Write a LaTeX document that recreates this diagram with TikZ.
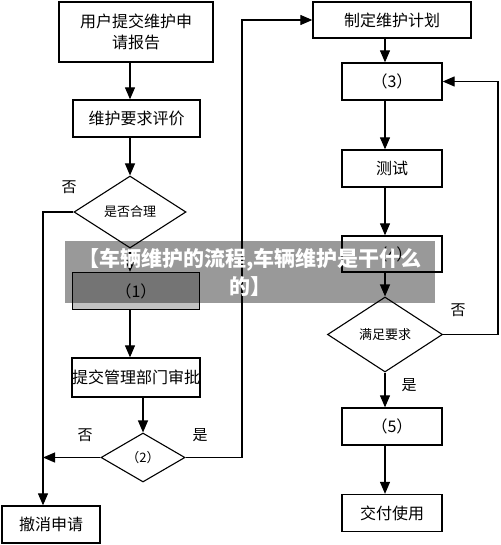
\documentclass[tikz,border=0pt]{standalone}
\usepackage{fontspec}
\setmainfont{Noto Sans CJK SC}
\usetikzlibrary{shapes.geometric, arrows.meta}

\begin{document}
\begin{tikzpicture}[
  x=1pt, y=-1pt,
  every node/.style={font=\fontsize{16}{21}\selectfont},
  box/.style={
    rectangle, draw, line width=1.3pt,
    inner sep=0pt, align=center,
    minimum width=100pt, minimum height=37pt
  },
  decision/.style={
    diamond, draw, line width=1.1pt, inner sep=0pt,
    font=\fontsize{13}{16}\selectfont
  },
  freccia/.style={line width=1.1pt, -{Triangle[length=12pt,width=10pt]}},
  lbl/.style={font=\fontsize{15}{18}\selectfont}
]
\useasboundingbox (0,0) rectangle (500,545);

% colonna di sinistra
\node[box, minimum width=154pt, minimum height=60pt] (richiesta) at (136,32) {用户提交维护申\\请报告};
\node[box, minimum width=127pt] (valuta) at (136.5,118.5) {维护要求评价};
\node[decision, minimum width=112pt, minimum height=72pt] (ragionevole) at (130,212) {是否合理};
\node[box, minimum width=127pt, fill=black!24] (passo1) at (136,291) {（1）};
\node[box, minimum width=128pt, minimum height=39pt] (approva) at (136,377.5) {提交管理部门审批};
\node[decision, minimum width=84pt, minimum height=49pt] (passo2) at (143,457.5) {（2）};
\node[box, minimum width=98pt] (annulla) at (51,524.5) {撤消申请};

% colonna di destra
\node[box, minimum width=158pt, minimum height=36pt] (piano) at (392,20) {制定维护计划};
\node[box] (passo3) at (392,81.5) {（3）};
\node[box] (test) at (392,168.5) {测试};
\node[box, minimum height=36pt] (passo4) at (392,254) {（4）};
\node[decision, minimum width=115pt, minimum height=75pt] (soddisfa) at (385,334.5) {满足要求};
\node[box] (passo5) at (392,426.5) {（5）};
\node[box] (consegna) at (392,513) {交付使用};

\coordinate (asse1) at (130,0);
\coordinate (asse2) at (385,0);
\coordinate (sx) at (43,0);
\coordinate (cx) at (242,0);
\coordinate (dx) at (498,0);

\foreach \a/\b in {richiesta/valuta, valuta/ragionevole, ragionevole/passo1, passo1/approva}
  \draw[freccia] (\a.south -| asse1) -- (\b.north -| asse1);
\draw[freccia] (approva.south -| passo2) -- (passo2.north);
\foreach \a/\b in {piano/passo3, passo3/test, test/passo4, passo4/soddisfa, soddisfa/passo5, passo5/consegna}
  \draw[freccia] (\a.south -| asse2) -- (\b.north -| asse2);

% rami di ritorno
\draw[freccia] (ragionevole.west) -| (sx |- annulla.north);
\draw[freccia] (passo2.west) -- (passo2.west -| sx);
\draw[freccia] (passo2.east) -| (cx |- piano.west) -- (piano.west);
\draw[freccia] (soddisfa.east) -| (dx |- passo3.east) -- (passo3.east);

\node[lbl] (no1) at (69,187) {否};
\node[lbl] (no2) at (85,435) {否};
\node[lbl] (si2) at (200,435) {是};
\node[lbl] (no3) at (458,310) {否};
\node[lbl] (si3) at (409,385) {是};

% fascia sovrapposta
\node[rectangle, fill=black, fill opacity=0.4, text opacity=1, text=white,
      minimum width=370pt, minimum height=62pt, inner sep=0pt, align=center,
      font=\bfseries\fontsize{21}{28}\selectfont] (fascia) at (250,272)
  {【车辆维护的流程,车辆维护是干什么\\的】};
\end{tikzpicture}
\end{document}
